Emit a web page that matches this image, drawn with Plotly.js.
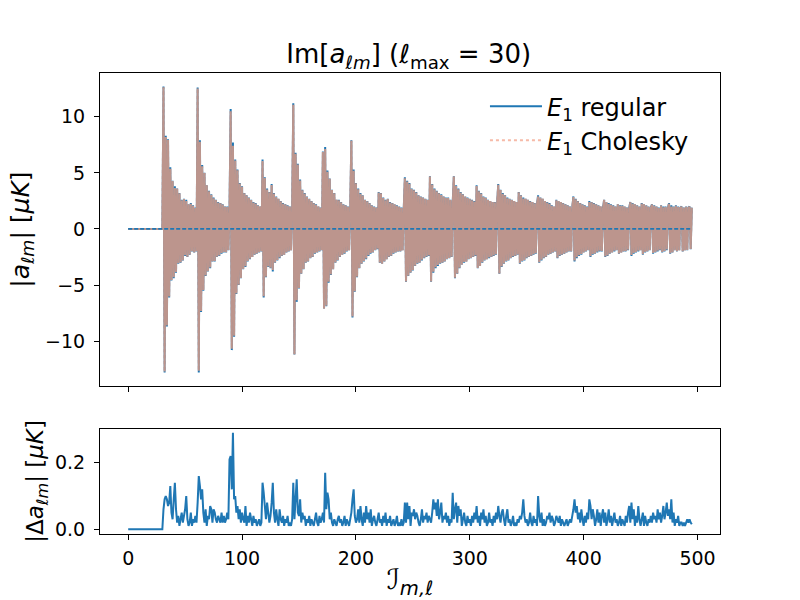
<!DOCTYPE html>
<html>
<head>
<meta charset="utf-8">
<script src="https://cdn.plot.ly/plotly-3.0.1.min.js"></script>
<style>html,body{margin:0;padding:0;background:#fff;}#chart{width:800px;height:600px;}</style>
</head>
<body>
<div id="chart"></div>
<script>
// Index I_{m,l}: 0..495 (l_max = 30)
const nPoints = 496;
const index = Array.from({length: nPoints}, (_, i) => i);

// Im[a_lm] for E1 regular, block by block in m (m = 0 block is zero)
const regular = [].concat(
  // m = 0 (0-30)
  [0,0,0,0,0,0,0,0,0,0,0,0,0,0,0,0,0,0,0,0,0,0,0,0,0,0,0,0,0,0,0],
  // m = 1 (31-60)
  [12.7,-12.8,8.3,-8.7,8.0,-6.1,5.5,-4.6,4.3,-4.4,3.8,-3.9,3.6,-3.1,3.2,-3.0,2.6,-2.8,2.7,-2.4,2.6,-2.5,2.2,-2.3,2.3,-2.0,2.1,-2.1,1.9,-2.0],
  // m = 2 (61-89)
  [12.6,-12.8,7.9,-7.4,5.7,-5.5,5.0,-4.2,3.9,-3.8,3.4,-3.5,3.1,-2.9,2.8,-2.9,2.6,-2.5,2.4,-2.4,2.3,-2.2,2.2,-2.1,2.0,-2.1,2.0,-1.9,1.9],
  // m = 3 (90-117)
  [10.7,-10.8,7.7,-9.6,6.2,-5.8,5.3,-5.0,4.1,-4.4,3.8,-3.6,3.2,-3.4,3.0,-2.9,2.8,-2.7,2.6,-2.5,2.4,-2.3,2.3,-2.2,2.1,-2.1,2.0,-2.0],
  // m = 4 (118-144)
  [6.2,-6.1,4.6,-4.3,3.6,-3.4,3.3,-3.5,4.0,-3.8,3.2,-3.0,2.9,-2.8,2.7,-2.6,2.5,-2.4,2.3,-2.3,2.2,-2.1,2.1,-2.0,2.0,-1.9,1.9],
  // m = 5 (145-170)
  [11.2,-11.2,6.8,-6.5,5.8,-5.3,4.4,-4.0,3.5,-3.6,3.2,-3.0,2.9,-2.9,2.7,-2.6,2.5,-2.5,2.3,-2.2,2.2,-2.1,2.0,-2.0,1.9,-1.9],
  // m = 6 (171-195)
  [6.9,-7.1,7.3,-6.9,5.2,-4.8,4.5,-4.1,3.5,-3.6,3.2,-3.0,2.6,-2.8,2.6,-2.5,2.4,-2.3,2.2,-2.2,2.1,-2.0,2.0,-1.9,1.9],
  // m = 7 (196-219)
  [7.9,-7.9,5.3,-5.6,4.1,-4.3,3.6,-3.5,3.2,-3.1,3.0,-2.9,2.6,-2.7,2.5,-2.4,2.3,-2.2,2.1,-2.1,2.0,-1.9,1.9,-1.8],
  // m = 8 (220-242)
  [3.3,-3.0,3.2,-3.1,2.8,-2.9,2.6,-2.7,2.7,-2.5,2.4,-2.4,2.3,-2.2,2.2,-2.1,2.1,-2.0,2.0,-2.0,1.9,-1.9,1.8],
  // m = 9 (243-264)
  [4.6,-4.7,4.3,-4.2,4.1,-3.9,3.6,-3.7,3.5,-3.3,3.3,-3.1,3.0,-3.0,2.9,-2.8,2.8,-2.6,2.7,-2.5,2.6,-2.4],
  // m = 10 (265-285)
  [4.7,-4.7,4.0,-3.9,3.6,-3.5,3.4,-3.3,3.2,-3.1,3.1,-3.0,2.9,-2.9,2.8,-2.7,2.8,-2.6,2.6,-2.5,2.4],
  // m = 11 (286-305)
  [4.7,-4.4,3.9,-4.0,3.6,-3.5,3.3,-3.2,3.1,-3.0,2.9,-2.9,2.8,-2.7,2.7,-2.6,2.6,-2.5,2.5,-2.4],
  // m = 12 (306-324)
  [3.9,-3.5,3.4,-3.3,3.2,-3.0,2.9,-2.8,2.8,-2.7,2.6,-2.6,2.5,-2.5,2.4,-2.4,2.4,-2.3,2.3],
  // m = 13 (325-342)
  [4.0,-4.0,3.5,-3.4,3.2,-3.1,3.0,-2.9,2.8,-2.8,2.7,-2.6,2.6,-2.5,2.5,-2.4,2.4,-2.3],
  // m = 14 (343-359)
  [3.3,-3.1,3.0,-2.9,2.8,-2.8,2.7,-2.6,2.6,-2.5,2.5,-2.4,2.4,-2.3,2.3,-2.2,2.2],
  // m = 15 (360-375)
  [3.0,-3.0,2.8,-2.8,2.7,-2.6,2.5,-2.5,2.4,-2.3,2.3,-2.2,2.1,-2.1,2.0,-2.0],
  // m = 16 (376-390)
  [2.6,-2.6,2.5,-2.4,2.4,-2.3,2.3,-2.2,2.2,-2.1,2.1,-2.0,2.0,-2.0,1.9],
  // m = 17 (391-404)
  [2.9,-2.9,2.7,-2.6,2.5,-2.4,2.3,-2.3,2.2,-2.1,2.1,-2.0,2.0,-1.9],
  // m = 18 (405-417)
  [2.5,-2.5,2.4,-2.3,2.3,-2.2,2.2,-2.1,2.1,-2.0,2.0,-2.0,1.9],
  // m = 19 (418-429)
  [2.6,-2.5,2.4,-2.4,2.3,-2.2,2.2,-2.1,2.1,-2.0,2.0,-1.9],
  // m = 20 (430-440)
  [2.2,-2.2,2.1,-2.1,2.1,-2.0,2.0,-2.0,1.9,-1.9,1.9],
  // m = 21 (441-450)
  [2.4,-2.4,2.3,-2.2,2.2,-2.1,2.1,-2.0,2.0,-1.9],
  // m = 22 (451-459)
  [2.3,-2.3,2.2,-2.1,2.1,-2.0,2.0,-1.9,1.9],
  // m = 23 (460-467)
  [2.2,-2.2,2.1,-2.1,2.0,-2.0,1.9,-1.9],
  // m = 24 (468-474)
  [2.1,-2.1,2.0,-2.0,2.0,-1.9,1.9],
  // m = 25 (475-480)
  [2.3,-2.2,2.1,-2.1,2.0,-1.9],
  // m = 26 (481-485)
  [2.1,-2.0,2.0,-1.9,1.9],
  // m = 27 (486-489)
  [2.0,-2.0,1.9,-1.9],
  // m = 28 (490-492)
  [2.0,-1.9,1.9],
  // m = 29 (493-494)
  [2.0,-1.8],
  // m = 30 (495)
  [1.9]
);

// |Delta a_lm| between regular and Cholesky
const delta = [].concat(
  [0,0,0,0,0,0,0,0,0,0,0,0,0,0,0,0,0,0,0,0,0,0,0,0,0,0,0,0,0,0,0],
  [0.06,0.09,0.10,0.09,0.07,0.08,0.13,0.05,0.03,0.09,0.14,0.06,0.02,0.04,0.01,0.03,0.05,0.02,0.04,0.06,0.10,0.03,0.01,0.02,0.05,0.01,0.03,0.02,0.04,0.02],
  [0.08,0.16,0.13,0.09,0.12,0.05,0.02,0.06,0.01,0.04,0.03,0.07,0.06,0.02,0.06,0.05,0.03,0.02,0.04,0.03,0.02,0.05,0.02,0.04,0.02,0.03,0.05,0.03,0.21],
  [0.22,0.12,0.29,0.09,0.10,0.05,0.07,0.03,0.06,0.02,0.05,0.03,0.02,0.07,0.01,0.04,0.02,0.05,0.03,0.01,0.04,0.02,0.03,0.01,0.02,0.03,0.01,0.02],
  [0.14,0.11,0.07,0.03,0.08,0.05,0.02,0.04,0.08,0.14,0.05,0.02,0.06,0.03,0.01,0.06,0.03,0.02,0.04,0.01,0.03,0.02,0.04,0.01,0.02,0.01,0.03],
  [0.14,0.03,0.09,0.15,0.05,0.04,0.09,0.02,0.05,0.03,0.04,0.01,0.03,0.02,0.04,0.01,0.03,0.02,0.01,0.03,0.05,0.02,0.01,0.04,0.02,0.03],
  [0.05,0.02,0.17,0.06,0.11,0.09,0.03,0.05,0.02,0.01,0.03,0.02,0.01,0.03,0.04,0.02,0.03,0.01,0.02,0.04,0.01,0.03,0.02,0.01,0.03],
  [0.05,0.09,0.12,0.04,0.02,0.03,0.06,0.02,0.07,0.03,0.01,0.05,0.02,0.07,0.03,0.05,0.02,0.06,0.01,0.03,0.04,0.02,0.01,0.03],
  [0.05,0.02,0.03,0.01,0.04,0.02,0.05,0.01,0.03,0.02,0.04,0.01,0.02,0.03,0.01,0.02,0.04,0.01,0.02,0.01,0.03,0.01,0.02],
  [0.08,0.02,0.08,0.03,0.07,0.01,0.05,0.04,0.06,0.03,0.05,0.04,0.02,0.01,0.03,0.06,0.02,0.04,0.03,0.05,0.02,0.04],
  [0.03,0.02,0.05,0.09,0.06,0.08,0.04,0.09,0.03,0.05,0.08,0.02,0.04,0.03,0.05,0.02,0.04,0.01,0.03,0.02,0.11],
  [0.03,0.06,0.08,0.02,0.07,0.04,0.06,0.01,0.03,0.05,0.02,0.01,0.04,0.02,0.03,0.01,0.04,0.02,0.05,0.03],
  [0.07,0.02,0.04,0.01,0.05,0.03,0.06,0.02,0.04,0.01,0.02,0.05,0.02,0.03,0.01,0.04,0.02,0.05,0.03],
  [0.07,0.04,0.02,0.05,0.06,0.03,0.01,0.04,0.06,0.02,0.03,0.01,0.02,0.04,0.01,0.02,0.01,0.03],
  [0.02,0.04,0.03,0.05,0.09,0.04,0.02,0.03,0.01,0.02,0.05,0.02,0.01,0.04,0.02,0.03,0.01],
  [0.10,0.04,0.02,0.05,0.01,0.03,0.01,0.02,0.04,0.03,0.05,0.02,0.04,0.03,0.01,0.02],
  [0.04,0.03,0.02,0.04,0.01,0.03,0.02,0.01,0.02,0.03,0.01,0.02,0.03,0.02,0.04],
  [0.06,0.09,0.05,0.07,0.03,0.05,0.02,0.06,0.03,0.01,0.04,0.02,0.05,0.03],
  [0.09,0.07,0.03,0.06,0.04,0.01,0.03,0.06,0.02,0.05,0.01,0.04,0.06],
  [0.02,0.05,0.01,0.03,0.06,0.02,0.04,0.01,0.03,0.05,0.02,0.03],
  [0.01,0.02,0.04,0.01,0.03,0.02,0.01,0.04,0.02,0.05,0.07],
  [0.02,0.08,0.03,0.06,0.01,0.04,0.02,0.07,0.03,0.01],
  [0.03,0.05,0.01,0.04,0.02,0.01,0.03,0.02,0.04],
  [0.02,0.05,0.03,0.04,0.02,0.06,0.03,0.05],
  [0.02,0.04,0.07,0.03,0.05,0.08,0.04],
  [0.06,0.03,0.09,0.02,0.05,0.01],
  [0.03,0.02,0.04,0.01,0.02],
  [0.02,0.01,0.02,0.01],
  [0.02,0.03,0.02],
  [0.03,0.02],
  [0.015]
);

// Cholesky values differ from the regular ones by |Delta a_lm|
const cholesky = regular.map((v, i) => v - Math.sign(v) * delta[i]);
const zeroLevel = [0, 0];

const FONT = 'DejaVu Sans, Liberation Sans, sans-serif';
const blue = '#1f77b4';

const traces = [
  // Cholesky, dotted (legend entry), drawn beneath the regular curve
  {x: index, y: cholesky, type: 'scatter', mode: 'lines', name: '<i>E</i><sub>1</sub> Cholesky',
   legendgroup: 'chol', legendrank: 2, xaxis: 'x2', yaxis: 'y2', opacity: 0.6,
   line: {color: 'rgb(240,140,110)', width: 2, dash: 'dot', simplify: false}},
  // Regular
  {x: index, y: regular, type: 'scatter', mode: 'lines', name: '<i>E</i><sub>1</sub> regular',
   legendgroup: 'reg', legendrank: 1, xaxis: 'x2', yaxis: 'y2',
   line: {color: blue, width: 2, simplify: false}},
  // Cholesky, translucent overlay on top of the regular curve
  {x: index, y: cholesky, type: 'scatter', mode: 'lines', showlegend: false, legendgroup: 'chol',
   xaxis: 'x2', yaxis: 'y2', opacity: 0.7,
   line: {color: 'rgb(255,162,124)', width: 2, simplify: false}, hoverinfo: 'skip'},
  {x: [index[0], index[index.length - 1]], y: zeroLevel, type: 'scatter', mode: 'lines', showlegend: false,
   xaxis: 'x2', yaxis: 'y2', line: {color: blue, width: 1.8, dash: '4px,2px'}, hoverinfo: 'skip'},
  {x: index, y: delta, type: 'scatter', mode: 'lines', showlegend: false,
   xaxis: 'x', yaxis: 'y', line: {color: blue, width: 2, simplify: false}}
];

const axisCommon = {
  showline: true, mirror: true, linecolor: '#000', linewidth: 1,
  ticks: 'outside', ticklen: 5, tickwidth: 1, tickcolor: '#000',
  showgrid: false, zeroline: false, automargin: false,
  tickfont: {family: FONT, size: 19, color: '#000'}
};

const layout = {
  width: 800, height: 600,
  paper_bgcolor: '#fff', plot_bgcolor: '#fff',
  margin: {l: 100, r: 80, t: 73, b: 66},
  showlegend: true,
  title: {
    text: 'Im[<i>a</i><sub><i>ℓm</i></sub>] (<i>ℓ</i><sub>max</sub> = 30)',
    font: {family: FONT, size: 26, color: '#000'},
    x: 0.498, xanchor: 'center', xref: 'paper',
    y: 0.91, yanchor: 'middle', yref: 'container'
  },
  legend: {
    x: 0.958, xanchor: 'right', y: 0.976, yanchor: 'top',
    bgcolor: 'rgba(0,0,0,0)', borderwidth: 0, traceorder: 'normal',
    font: {family: FONT, size: 24, color: '#000'},
    itemwidth: 52, tracegroupgap: 9
  },
  xaxis: Object.assign({}, axisCommon, {
    domain: [0, 1], anchor: 'y', range: [-24.75, 519.75],
    tickvals: [0, 100, 200, 300, 400, 500], ticklabelstandoff: 2,
    title: {text: 'ℐ<sub><i>m,ℓ</i></sub>', font: {family: FONT, size: 28, color: '#000'}, standoff: 4}
  }),
  yaxis: Object.assign({}, axisCommon, {
    domain: [0, 0.228], anchor: 'x', range: [-0.0144, 0.302],
    tickvals: [0.0, 0.2], ticktext: ['0.0', '0.2'], ticklabelstandoff: 5,
    title: {text: '|Δ<i>a</i><sub><i>ℓm</i></sub>| [<i>μK</i>]', font: {family: FONT, size: 23, color: '#000'}, standoff: 4}
  }),
  xaxis2: Object.assign({}, axisCommon, {
    domain: [0, 1], anchor: 'y2', matches: 'x', range: [-24.75, 519.75],
    tickvals: [0, 100, 200, 300, 400, 500], showticklabels: false
  }),
  yaxis2: Object.assign({}, axisCommon, {
    domain: [0.321, 1], anchor: 'x2', range: [-14.0, 13.9],
    tickvals: [-10, -5, 0, 5, 10], ticktext: ['−10', '−5', '0', '5', '10'], ticklabelstandoff: 5,
    title: {text: '|<i>a</i><sub><i>ℓm</i></sub>| [<i>μK</i>]', font: {family: FONT, size: 25, color: '#000'}, standoff: 8}
  })
};

Plotly.newPlot('chart', traces, layout, {displayModeBar: false, staticPlot: true});
</script>
</body>
</html>
